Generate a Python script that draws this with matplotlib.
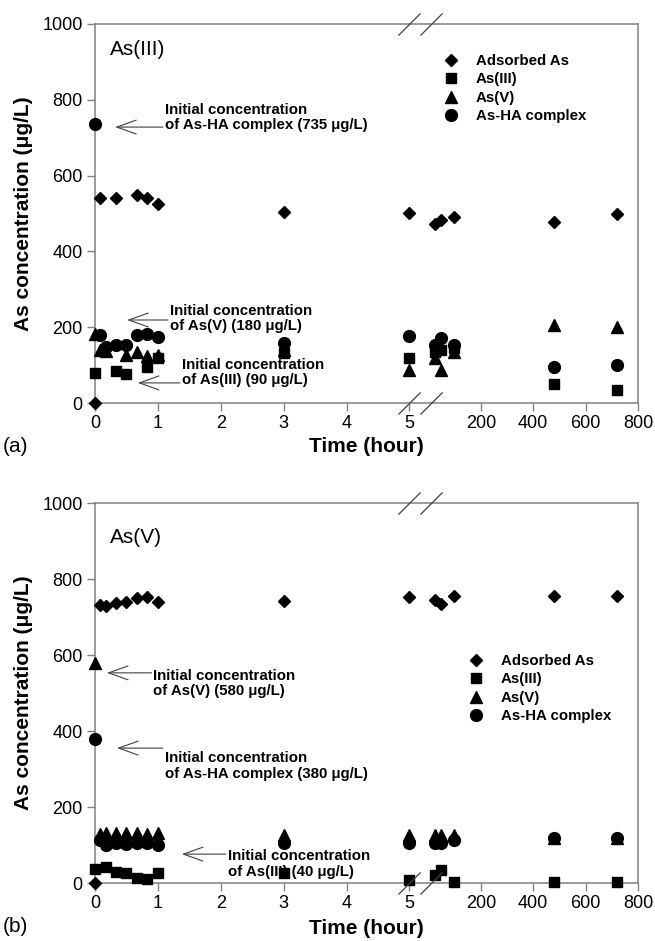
import numpy as np
import matplotlib
matplotlib.use('Agg')
import matplotlib.pyplot as plt

plt.rcParams['font.family'] = ['Liberation Sans', 'DejaVu Sans']

nan = np.nan

# tempos (hora) - eixo quebrado em 5 h
tempos = [0, 0.083, 0.167, 0.33, 0.5, 0.67, 0.83, 1, 3, 5, 24, 48, 96, 480, 720]

# (a) As(III)
adsorvido_a = [0, 541, nan, 541, nan, 550, 540, 525, 503, 502, 472, 483, 491, 477, 500]
as3_a = [79, nan, nan, 85, 77, nan, 95, 118, 133, 120, 135, 140, 145, 50, 33]
as5_a = [182, 140, 138, nan, 127, 135, 124, 127, 140, 87, 119, 87, 135, 206, 201]
ha_a = [735, 179, 148, 153, 153, 180, 181, 173, 158, 177, 153, 171, 153, 95, 100]

# (b) As(V)
adsorvido_b = [0, 731, 729, 737, 740, 750, 753, 740, 742, 753, 745, 735, 755, 755, 755]
as3_b = [36, nan, 43, 30, 26, 13, 10, 26, 26, 8, 21, 34, 2, 2, 2]
as5_b = [580, 130, 132, 131, 132, 131, 130, 132, 126, 126, 126, 126, 126, 118, 118]
ha_b = [380, 113, 100, 105, 102, 105, 104, 100, 105, 105, 104, 105, 113, 118, 118]

xticks = [0, 1, 2, 3, 4, 5, 200, 400, 600, 800]
yticks = [0, 200, 400, 600, 800, 1000]
legenda = ['Adsorbed As', 'As(III)', 'As(V)', 'As-HA complex']

# notas: (texto, x texto, y texto, ponta x, ponta y, cauda x)
notas_a = [('Initial concentration\nof As-HA complex (735 \u03bcg/L)', 1.11, 753, 0.32, 728, 1.08),
           ('Initial concentration\nof As(V) (180 \u03bcg/L)', 1.19, 222, 0.51, 219, 1.16),
           ('Initial concentration\nof As(III) (90 \u03bcg/L)', 1.38, 80, 0.68, 53, 1.35)]
notas_b = [('Initial concentration\nof As(V) (580 \u03bcg/L)', 0.92, 526, 0.19, 553, 0.90),
           ('Initial concentration\nof As-HA complex (380 \u03bcg/L)', 1.11, 308, 0.35, 355, 1.08),
           ('Initial concentration\nof As(III) (40 \u03bcg/L)', 2.11, 50, 1.38, 76, 2.08)]


def fwd(x):
    x = np.asarray(x, float)
    return np.where(x <= 5, x, 5.30 + x / 240.0)


def inv(y):
    y = np.asarray(y, float)
    return np.where(y <= 5, y, np.maximum(5, (y - 5.30) * 240.0))


def painel(ax, series, titulo, notas, leg_pos):
    cinza = '#808080'
    h1, = ax.plot(tempos, series[0], 'D', color='k', ms=6.2, ls='none', clip_on=False, zorder=4)
    h2, = ax.plot(tempos, series[1], 's', color='k', ms=7.5, ls='none', clip_on=False, zorder=4)
    h3, = ax.plot(tempos, series[2], '^', color='k', ms=9, ls='none', clip_on=False, zorder=4)
    h4, = ax.plot(tempos, series[3], 'o', color='k', ms=8.5, ls='none', clip_on=False, zorder=4)

    ax.set_xscale('function', functions=(fwd, inv))
    ax.set_xlim(0, 800)
    ax.set_ylim(0, 1000)
    ax.set_xticks(xticks)
    ax.set_xticklabels([str(t) for t in xticks])
    ax.set_yticks(yticks)
    ax.minorticks_off()
    ax.tick_params(direction='out', length=6, width=1, color=cinza, labelsize=13, pad=3)
    for s in ax.spines.values():
        s.set_color(cinza)
        s.set_linewidth(1.1)

    # quebra do eixo
    for xb in [5, 11]:
        ax.plot([xb, xb], [0, 1], ls='none', marker=[(-1, -1), (1, 1)], ms=16,
                mec='#404040', mew=0.9, transform=ax.get_xaxis_transform(), clip_on=False, zorder=5)

    ax.text(0.24, titulo[1], titulo[0], fontsize=15, ha='left', va='center')

    for txt, tx, ty, px, py, cx in notas:
        ax.text(tx, ty, txt, fontsize=10.8, fontweight='bold', ha='left', va='center', linespacing=1.1)
        ax.annotate('', xy=(px, py), xytext=(cx, py),
                    arrowprops=dict(arrowstyle='->,head_length=1.4,head_width=0.5',
                                    color='#404040', lw=0.8, shrinkA=0, shrinkB=0))

    ax.legend([h1, h2, h3, h4], legenda, loc='upper left', bbox_to_anchor=leg_pos,
              frameon=False, borderaxespad=0, borderpad=0, handlelength=1.0,
              handletextpad=1.2, labelspacing=0.3, prop={'weight': 'bold', 'size': 10.8})


fig = plt.figure(figsize=(6.55, 9.41), dpi=100)
ax1 = fig.add_axes([95 / 655, 1 - 403 / 941, 543 / 655, 379 / 941])
ax2 = fig.add_axes([95 / 655, 1 - 883 / 941, 543 / 655, 380 / 941])

painel(ax1, [adsorvido_a, as3_a, as5_a, ha_a], ('As(III)', 932), notas_a, (0.641, 0.921))
painel(ax2, [adsorvido_b, as3_b, as5_b, ha_b], ('As(V)', 910), notas_b, (0.687, 0.603))

for yc in [1 - 213.5 / 941, 1 - 693 / 941]:
    fig.text(0.036, yc, 'As concentration (\u03bcg/L)', rotation=90, fontsize=15,
             fontweight='bold', ha='center', va='center')
fig.text(366 / 655, 1 - 447 / 941, 'Time (hour)', fontsize=15, fontweight='bold', ha='center', va='center')
fig.text(366 / 655, 1 - 929 / 941, 'Time (hour)', fontsize=15, fontweight='bold', ha='center', va='center')
fig.text(3 / 655, 1 - 447 / 941, '(a)', fontsize=15, ha='left', va='center')
fig.text(3 / 655, 1 - 927 / 941, '(b)', fontsize=15, ha='left', va='center')

fig.savefig('out.png', dpi=100)
